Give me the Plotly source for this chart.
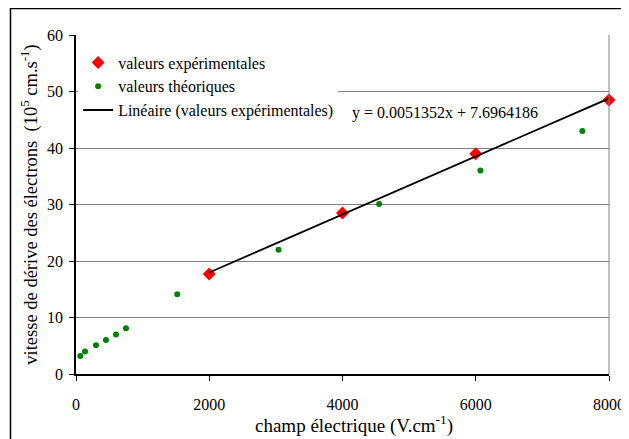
import plotly.graph_objects as go

# Data
exp_x = [2000, 4000, 6000, 8000]
exp_y = [17.7, 28.5, 39.0, 48.5]

theo_x = [65, 135, 300, 450, 600, 750, 1520, 3040, 4550, 6070, 7600]
theo_y = [3.2, 4.0, 5.1, 6.0, 7.0, 8.1, 14.1, 22.0, 30.1, 36.0, 43.0]

# Linear trend shown in the chart label
slope = 0.0051352
intercept = 7.6964186
trend_x = [exp_x[0], exp_x[-1]]
trend_y = [slope * v + intercept for v in trend_x]

x_ticks = [0, 2000, 4000, 6000, 8000]
y_ticks = [0, 10, 20, 30, 40, 50, 60]

FONT = "Liberation Serif"

fig = go.Figure()
fig.add_trace(go.Scatter(
    x=exp_x, y=exp_y, mode="markers", name="valeurs expérimentales",
    marker=dict(symbol="diamond", size=10, color="#ff0000"),
    cliponaxis=False,
))
fig.add_trace(go.Scatter(
    x=theo_x, y=theo_y, mode="markers", name="valeurs théoriques",
    marker=dict(symbol="circle", size=6, color="#008000"),
    cliponaxis=False,
))
fig.add_trace(go.Scatter(
    x=trend_x, y=trend_y, mode="lines", name="Linéaire (valeurs expérimentales)",
    line=dict(color="black", width=1.8),
    cliponaxis=False,
))

fig.add_annotation(
    x=4110, y=46.2, xref="x", yref="y", xanchor="left", yanchor="middle",
    text=f"y = {slope:.7f}x + {intercept:.7f}", showarrow=False,
    font=dict(family=FONT, size=16, color="black"),
)

# x-axis title (placed slightly right of centre, as in the reference)
fig.add_annotation(
    x=0.5216, y=-0.149, xref="paper", yref="paper",
    xanchor="center", yanchor="middle", showarrow=False,
    text="champ électrique (V.cm<sup>-1</sup>)",
    font=dict(family=FONT, size=19, color="black"),
)

# outer chart frame
fig.add_shape(type="rect", xref="paper", yref="paper",
              x0=-0.1229, x1=1.2, y0=-0.4, y1=1.078,
              line=dict(color="black", width=1.5), layer="below")
# right border of plot area
fig.add_shape(type="line", xref="paper", yref="paper",
              x0=1, x1=1, y0=0, y1=1,
              line=dict(color="#808080", width=1))

fig.update_layout(
    template="none",
    width=621, height=431,
    margin=dict(l=68, r=20, t=27, b=65, autoexpand=False),
    paper_bgcolor="white", plot_bgcolor="white",
    font=dict(family=FONT, size=16, color="black"),
    showlegend=True,
    legend=dict(
        x=0.004, y=0.969, xanchor="left", yanchor="top",
        bgcolor="white", borderwidth=0,
        font=dict(family=FONT, size=16, color="black"),
        tracegroupgap=0, itemwidth=30,
    ),
    xaxis=dict(
        range=[0, 8000], tickvals=x_ticks, ticktext=[str(v) for v in x_ticks],
        showline=True, linecolor="black", linewidth=1.5,
        ticks="outside", ticklen=5, tickcolor="black", tickwidth=1,
        showgrid=False, zeroline=False, automargin=False,
        ticklabelstandoff=10,
        tickfont=dict(family=FONT, size=16, color="black"),
    ),
    yaxis=dict(
        range=[0, 60], tickvals=y_ticks, ticktext=[str(v) for v in y_ticks],
        showline=True, linecolor="black", linewidth=1.5,
        ticks="outside", ticklen=5, tickcolor="black", tickwidth=1,
        showgrid=True, gridcolor="#808080", gridwidth=1, zeroline=False,
        automargin=False,
        ticklabelstandoff=3,
        tickfont=dict(family=FONT, size=16, color="black"),
        title=dict(text="vitesse de dérive des électrons  (10<sup>5</sup> cm.s<sup>-1</sup>)",
                   standoff=5, font=dict(family=FONT, size=18.5, color="black")),
    ),
)

fig.write_html("out.html")
